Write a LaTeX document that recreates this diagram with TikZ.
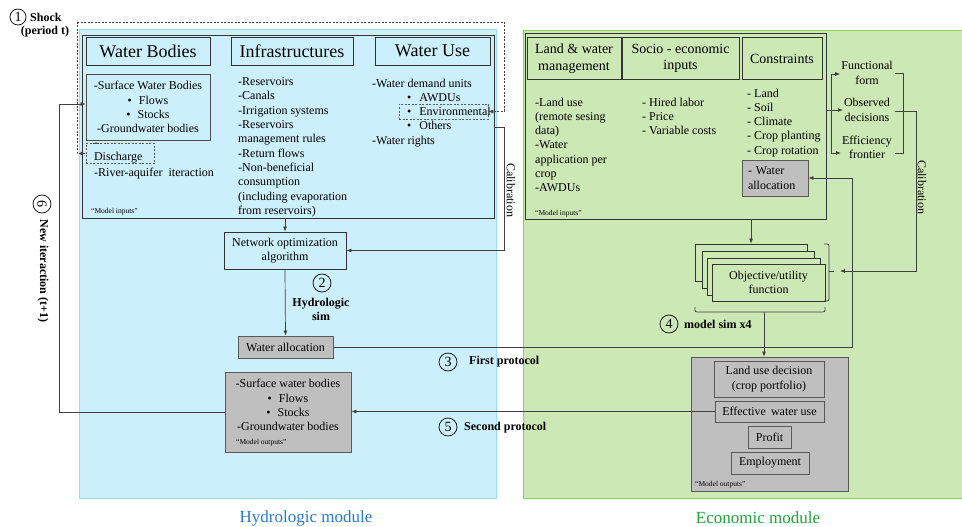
\documentclass[tikz,border=0pt]{standalone}
\usepackage{fontspec}
\setmainfont{LiberationSerif}[Extension=.ttf, UprightFont=*-Regular, BoldFont=*-Bold, ItalicFont=*-Italic, BoldItalicFont=*-BoldItalic]
\usetikzlibrary{arrows.meta}
\definecolor{hyfill}{HTML}{CCEFFC}
\definecolor{hyline}{HTML}{9ADDF7}
\definecolor{ecfill}{HTML}{CCE8B4}
\definecolor{ecline}{HTML}{92D050}
\definecolor{gfill}{HTML}{BFBFBF}
\definecolor{hytitle}{HTML}{2B7BC4}
\definecolor{ectitle}{HTML}{1EA33A}
\begin{document}
\begin{tikzpicture}[x=1pt,y=-1pt,
  body/.style={font=\fontsize{12}{14.3}\selectfont, inner sep=0pt, align=left},
  cbody/.style={font=\fontsize{12}{14.3}\selectfont, align=center},
  box/.style={draw=black!80, line width=0.8pt, inner sep=0pt},
  hhdr/.style={box, fill=hyfill, font=\fontsize{18}{20}\selectfont, minimum height=28pt},
  ehdr/.style={box, fill=ecfill, font=\fontsize{14}{16.5}\selectfont, align=center, minimum height=42pt},
  gbox/.style={box, draw=black!65, fill=gfill},
  dbox/.style={draw=black!65, line width=0.7pt, dash pattern=on 2pt off 1.5pt, inner sep=0pt},
  conn/.style={draw=black!75, line width=0.7pt},
  arr/.style={conn, -{Latex[length=5pt,width=4pt]}},
  darr/.style={arr, dash pattern=on 2pt off 1.5pt, line width=0.6pt},
  num/.style={circle, draw=black, line width=0.7pt, minimum size=18pt, inner sep=0pt, font=\fontsize{14}{14}\selectfont},
  lbl/.style={font=\fontsize{12}{14}\selectfont\bfseries, inner sep=0pt, align=center},
  tiny/.style={font=\fontsize{7.5}{9}\selectfont, inner sep=0pt},
  rtxt/.style={font=\fontsize{12}{14}\selectfont, inner sep=0pt, rotate=-90}
]
\useasboundingbox (0,0) rectangle (962,527);

% ---------- backgrounds
\path[draw=hyline, fill=hyfill, line width=0.8pt] (79,29) rectangle (496,498);
\fill[ecfill] (523,30) rectangle (962,498);
\draw[ecline, line width=0.8pt] (962,30) -- (523,30) -- (523,498) -- (962,498);

% ---------- hydrologic inputs
\node[box, minimum width=412pt, minimum height=183pt] (hinp) at (288,126.5) {};
\node[hhdr, minimum width=124pt] (hwb) at (148,51) {Water Bodies};
\node[hhdr, minimum width=122pt] (hinf) at (292,51) {Infrastructures};
\node[hhdr, minimum width=115pt] (hwu) at (432.5,51) {Water Use};

\node[box, draw=black!70, cbody, minimum width=124pt, minimum height=66pt] (surf) at (148,107)
  {-Surface Water Bodies\\ \textbullet\hspace{7pt}Flows\\ \textbullet\hspace{7pt}Stocks\\ -Groundwater bodies};
\node[dbox, font=\fontsize{12}{14.3}\selectfont, text width=52pt, inner xsep=8pt, inner ysep=0pt,
  minimum height=20pt, align=left] (dis) at (120,153.5) {-Discharge};
\node[body, anchor=west] (riv) at (94,174) {-River-aquifer\hspace{6pt}iteraction};
\node[tiny, anchor=west] (hmi) at (91,212) {“Model inputs”};

\node[body, anchor=north west] (infl) at (238,77.5) {-Reservoirs\\-Canals\\-Irrigation systems\\-Reservoirs\\management rules\\-Return flows\\-Non-beneficial\\consumption\\(including evaporation\\from reservoirs)};
\node[body, anchor=north west] (wul) at (372,78.5) {-Water demand units\\ \hspace*{35pt}\textbullet\hspace{8pt}AWDUs\\ \hspace*{35pt}\textbullet\hspace{8pt}Environmental\\ \hspace*{35pt}\textbullet\hspace{8pt}Others\\ -Water rights};
\node[dbox, minimum width=89pt, minimum height=15pt] (env) at (443.5,111.5) {};

% ---------- shock
\node[num, minimum size=16pt] (n1) at (18,17) {1};
\node[lbl, anchor=west] (shk) at (30,17) {Shock};
\node[lbl] (per) at (45,32) {(period t)};
\coordinate (sk1) at (77,22);
\coordinate (sk2) at (504,22);
\draw[conn, dash pattern=on 2pt off 1.5pt, line width=0.6pt] (sk1) -- (sk2);
\draw[darr] (sk2) |- (env.east);
\draw[darr] (sk1) |- (dis.west);

% ---------- hydrologic simulation
\node[box, fill=hyfill, cbody, minimum width=122pt, minimum height=37pt] (net) at (285,250.5) {Network optimization\\algorithm};
\draw[arr] (hinp.south -| net.north) -- (net.north);
\coordinate (hc1) at (504,127);
\draw[conn] (hc1 -| hinp.east) -- (hc1);
\draw[arr] (hc1) |- (net.east);
\node[rtxt] (hcal) at (511,190) {Calibration};

\node[num] (n2) at (322,283) {2};
\node[lbl] (hsim) at (321,309.5) {Hydrologic\\sim};
\node[gbox, font=\fontsize{12}{14}\selectfont, minimum width=95pt, minimum height=22pt] (halloc) at (285.5,347) {Water allocation};
\draw[arr] (net.south) -- (halloc.north);

\node[num] (n3) at (448,362) {3};
\node[lbl, anchor=west] (fp) at (469,362) {First protocol};

\node[gbox, minimum width=126pt, minimum height=80pt] (hout) at (288,412) {};
\node[cbody, inner sep=0pt] (houtt) at (288,405) {-Surface water bodies\\ \textbullet\hspace{7pt}Flows\\ \textbullet\hspace{7pt}Stocks\\ -Groundwater bodies};
\node[tiny, anchor=west] (hmo) at (236,443) {“Model outputs”};

\node[num] (n5) at (448,427) {5};
\node[lbl, anchor=west] (sp) at (464,428) {Second protocol};

\node[font=\fontsize{17}{20}\selectfont, text=hytitle, inner sep=0pt] (htitle) at (306,518) {Hydrologic module};

% ---------- new iteration loop
\coordinate (lp) at (59,104);
\draw[arr] (hout.west) -| (lp) -- (lp -| surf.west);
\node[num, rotate=-90] (n6) at (42,204) {6};
\node[lbl, rotate=-90] (newit) at (43,271) {New iteraction (t+1)};

% ---------- economic inputs
\node[box, minimum width=301pt, minimum height=186pt] (einp) at (675.5,126) {};
\node[ehdr, minimum width=94pt] (elw) at (574,58.5) {Land \& water\\management};
\node[ehdr, minimum width=117pt] (eso) at (680.5,58.5) {Socio - economic\\inputs};
\node[ehdr, minimum width=80pt] (eco) at (782,58.5) {Constraints};
\node[body, anchor=north west] (lul) at (535,97.5) {-Land use\\(remote sesing\\data)\\-Water\\application per\\crop\\-AWDUs};
\node[body, anchor=north west] (sol) at (642,97.5) {- Hired labor\\- Price\\- Variable costs};
\node[body, anchor=north west] (col) at (747,88.5) {- Land\\- Soil\\- Climate\\- Crop planting\\- Crop rotation};
\node[gbox, font=\fontsize{12}{14.3}\selectfont, text width=54pt, align=left, inner xsep=6pt, inner ysep=0pt, minimum height=36pt] (ewa) at (775,178) {- Water\\allocation};
\node[tiny, anchor=west] (emi) at (535,214) {“Model inputs”};

% ---------- calibration (economic)
\node[cbody, inner sep=1pt] (ff) at (867,73) {Functional\\form};
\node[cbody, inner sep=1pt] (od) at (867,110) {Observed\\decisions};
\node[cbody, inner sep=1pt] (ef) at (867,147.5) {Efficiency\\frontier};
\coordinate (bt) at (831,74);
\coordinate (bm) at (831,110);
\coordinate (bb) at (831,153);
\draw[conn] (bt) -- (bb);
\draw[conn] (bm -| einp.east) -- (bm);
\draw[arr] (bt) -- (bt -| ff.west);
\draw[arr] (bm) -- (od.west);
\draw[arr] (bb) -- (bb -| ef.west);
\draw[conn] (895,73) -- (903,73) -- (903,153) -- (895,153);
\coordinate (cr1) at (895,111);
\coordinate (cr2) at (916,111);
\coordinate (cr3) at (916,271);
\coordinate (stk) at (840,271);
\draw[arr] (cr1) -- (cr2) -- (cr3) -- (stk);
\node[rtxt] (ecal) at (922,187) {Calibration};

% ---------- objective stack
\node[box, fill=ecfill, minimum width=112pt, minimum height=37pt] (s1) at (751,262.5) {};
\node[box, fill=ecfill, minimum width=112pt, minimum height=37pt] (s2) at (758,269.5) {};
\node[box, fill=ecfill, minimum width=113pt, minimum height=37pt] (s3) at (763.5,276.5) {};
\node[box, fill=ecfill, cbody, minimum width=113pt, minimum height=37pt] (s4) at (768.5,282.5) {Objective/utility\\function};
\draw[arr] (einp.south -| s1.north) -- (s1.north);
\draw[conn, rounded corners=2pt] (824,244) -- (829,244) -- (829,301) -- (824,301);
\draw[conn] (829,271) -- (834,271);
\draw[conn, rounded corners=2pt] (695,307) -- (695,312) -- (825,312) -- (825,307);

\node[num] (n4) at (669,324) {4};
\node[lbl, anchor=west] (msim) at (684,324) {model sim x4};

% ---------- economic outputs
\node[gbox, minimum width=157pt, minimum height=134pt] (eout) at (769.5,424) {};
\coordinate (bbm) at (764,312);
\draw[arr] (bbm) -- (bbm |- eout.north);
\node[gbox, cbody, minimum width=110pt, minimum height=36pt] (lud) at (769,379) {Land use decision\\(crop portfolio)};
\node[gbox, font=\fontsize{12}{14}\selectfont, minimum width=109pt, minimum height=21pt] (eff) at (769.5,411.5) {Effective\hspace{5pt}water use};
\node[gbox, font=\fontsize{12}{14}\selectfont, minimum width=43pt, minimum height=22pt] (prof) at (769.5,437) {Profit};
\node[gbox, font=\fontsize{12}{14}\selectfont, minimum width=78pt, minimum height=22pt] (emp) at (770,463) {Employment};
\node[tiny, anchor=west] (emo) at (695,485) {“Model outputs”};

\node[font=\fontsize{17}{20}\selectfont, text=ectitle, inner sep=0pt] (etitle) at (758,518) {Economic module};

% ---------- protocols
\coordinate (wc) at (852,178);
\draw[arr] (halloc.east) -| (wc) -- (ewa.east);
\draw[arr] (eff.west) -- (eff.west -| hout.east);
\end{tikzpicture}
\end{document}
